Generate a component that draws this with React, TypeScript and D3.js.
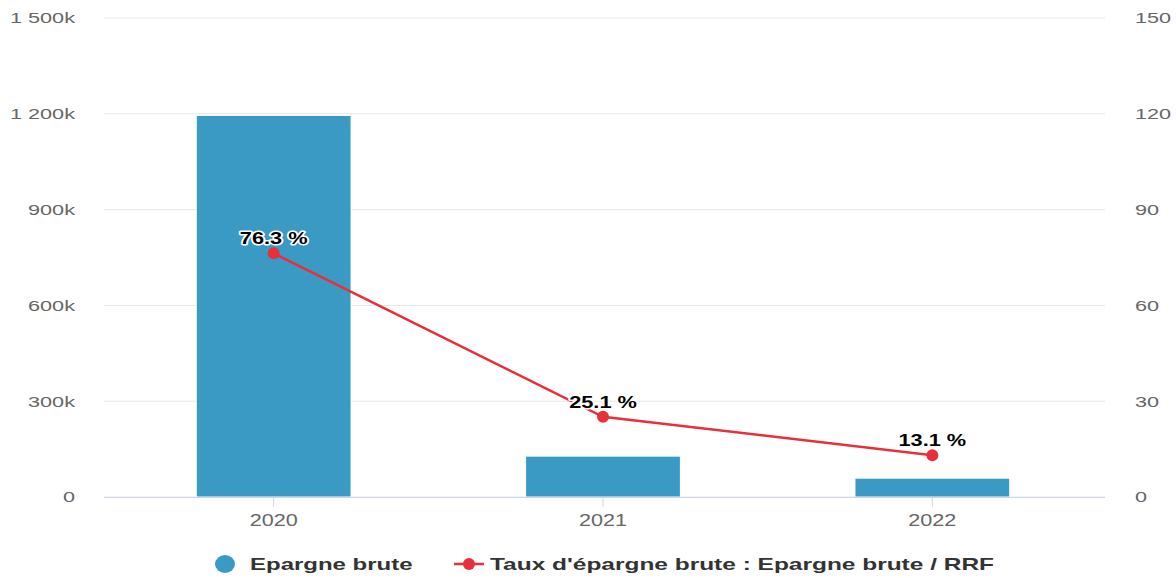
import React from "react";
import * as d3 from "d3";

const categories = ["2020", "2021", "2022"];
const epargneBrute = [1195000, 128000, 59000];
const tauxEpargne = [76.3, 25.1, 13.1];
const leftTicks = [0, 300000, 600000, 900000, 1200000, 1500000];
const rightTicks = [0, 30, 60, 90, 120, 150];

const W = 1176;
const H = 578;
const top = 18;
const bottom = 497;
const left = 109;
const right = 1097;

const fmtLeft = (v: number) => {
  if (v === 0) return "0";
  const k = v / 1000;
  const s = String(k);
  return (k >= 1000 ? s.replace(/(\d)(\d{3})$/, "$1 $2") : s) + "k";
};

function T(props: {
  x: number;
  y: number;
  sx: number;
  size: number;
  anchor?: string;
  bold?: boolean;
  fill: string;
  halo?: boolean;
  children: React.ReactNode;
}) {
  const { x, y, sx, size, anchor = "start", bold, fill, halo, children } = props;
  return (
    <g transform={`translate(${x},${y}) scale(${sx},1)`}>
      <text
        x={0}
        y={0}
        dy="0.35em"
        textAnchor={anchor}
        fontSize={size}
        fontWeight={bold ? "bold" : "normal"}
        fill={fill}
        stroke={halo ? "#fff" : "none"}
        strokeWidth={halo ? 3 : 0}
        strokeLinejoin="round"
        paintOrder="stroke"
      >
        {children}
      </text>
    </g>
  );
}

export default function App() {
  const x = d3.scaleBand<string>().domain(categories).range([left, right]).paddingInner(0.53).paddingOuter(0.265);
  const xc = (c: string) => (x(c) as number) + x.bandwidth() / 2;
  const yL = d3.scaleLinear().domain([0, 1500000]).range([bottom, top]);
  const yR = d3.scaleLinear().domain([0, 150]).range([bottom, top]);
  const line = d3.line<number>().x((_, i) => xc(categories[i])).y((d) => yR(d));
  const font = "Liberation Sans, Arial, sans-serif";

  return (
    <svg width={W} height={H} style={{ position: "absolute", left: 0, top: 0, fontFamily: font }}>
      <rect width={W} height={H} fill="#fff" />
      {leftTicks.map((t) => (
        <line key={t} x1={104} x2={1105} y1={yL(t)} y2={yL(t)} stroke="#e6e6e6" strokeWidth={1} />
      ))}
      {leftTicks.map((t) => (
        <T key={"l" + t} x={75} y={yL(t)} sx={1.4} size={15.5} anchor="end" fill="#666">
          {fmtLeft(t)}
        </T>
      ))}
      {rightTicks.map((t) => (
        <T key={"r" + t} x={1135} y={yR(t)} sx={1.4} size={15.5} fill="#666">
          {t}
        </T>
      ))}
      {categories.map((c, i) => (
        <rect
          key={c}
          x={x(c)}
          y={yL(epargneBrute[i])}
          width={x.bandwidth()}
          height={bottom - yL(epargneBrute[i])}
          fill="#3a9ac4"
          stroke="#fff"
          strokeWidth={1}
        />
      ))}
      <line x1={104} x2={1105} y1={bottom + 0.5} y2={bottom + 0.5} stroke="#ccd6eb" strokeWidth={1} />
      {categories.map((c) => (
        <g key={"x" + c}>
          <line x1={xc(c)} x2={xc(c)} y1={bottom} y2={bottom + 10} stroke="#ccd6eb" strokeWidth={1} />
          <T x={xc(c)} y={520} sx={1.35} size={16} anchor="middle" fill="#666">
            {c}
          </T>
        </g>
      ))}
      <path d={line(tauxEpargne) || ""} fill="none" stroke="#e8303a" strokeWidth={2.5} />
      {tauxEpargne.map((v, i) => (
        <circle key={"p" + i} cx={xc(categories[i])} cy={yR(v)} r={6} fill="#e8303a" />
      ))}
      {tauxEpargne.map((v, i) => (
        <T key={"d" + i} x={xc(categories[i])} y={yR(v) - 15} sx={1.28} size={17} anchor="middle" bold fill="#000" halo>
          {v.toFixed(1)} %
        </T>
      ))}
      <g>
        <ellipse cx={225} cy={564} rx={10} ry={9} fill="#3a9ac4" />
        <T x={250} y={564} sx={1.5} size={16} bold fill="#333">
          Epargne brute
        </T>
        <line x1={454} x2={484} y1={564} y2={564} stroke="#e8303a" strokeWidth={2.5} />
        <circle cx={469} cy={564} r={6} fill="#e8303a" />
        <T x={490} y={564} sx={1.53} size={16} bold fill="#333">
          Taux d'épargne brute : Epargne brute / RRF
        </T>
      </g>
    </svg>
  );
}
